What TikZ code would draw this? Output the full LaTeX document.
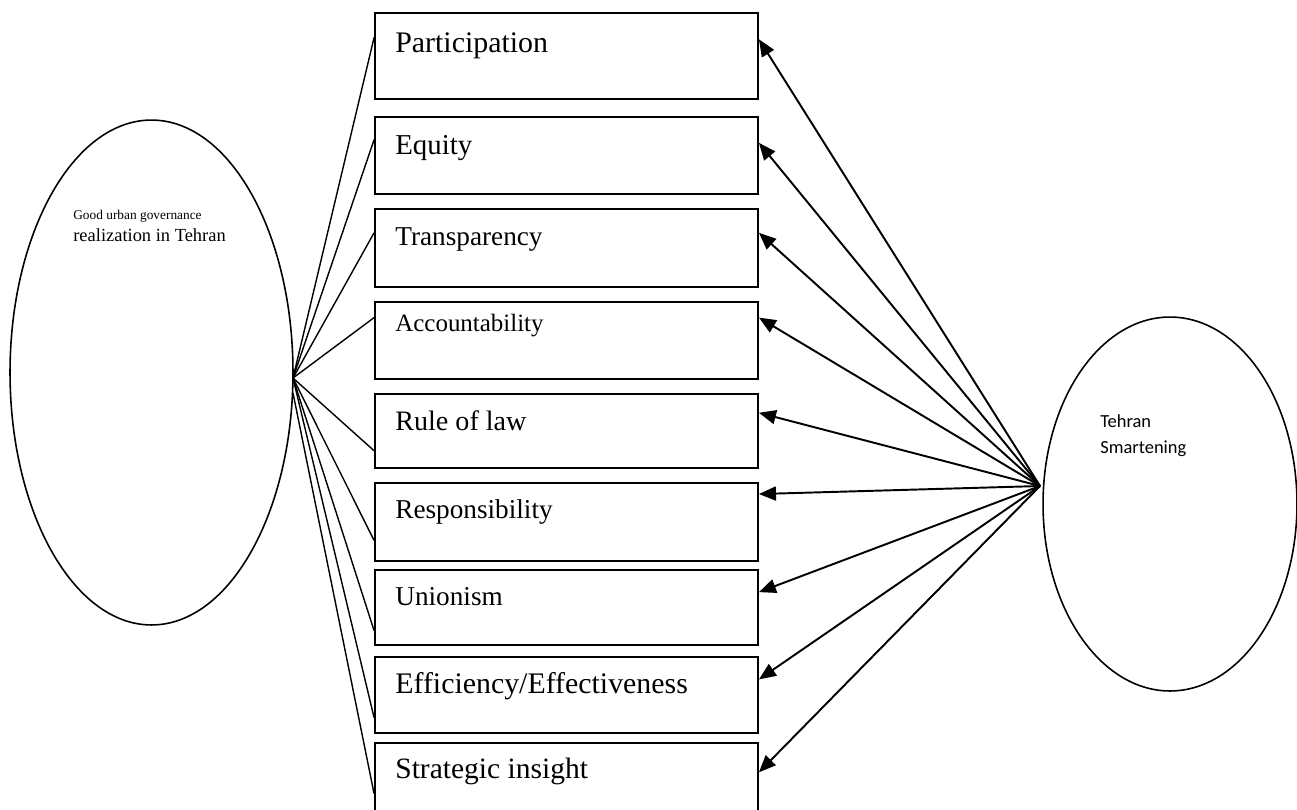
\documentclass[tikz,border=0pt]{standalone}
\usepackage{fontspec}
\setmainfont{Liberation Serif}
\newfontfamily\carlito{Carlito}
\usepackage{tikz}
\usetikzlibrary{shapes.geometric, arrows.meta, calc}

\tikzset{
  factorbox/.style={draw, line width=1.1pt, minimum width=7.66cm, inner sep=0pt},
  factorlbl/.style={anchor=base west, inner sep=0pt, font=\fontsize{15.5}{18}\selectfont},
  bigoval/.style={draw, ellipse, line width=0.9pt, inner sep=0pt},
  feeder/.style={line width=0.8pt},
  pointer/.style={line width=1.1pt, -{Triangle[length=0.34cm, width=0.28cm]}}
}

\begin{document}
\begin{tikzpicture}[x=0.02cm, y=-0.02cm]
  \useasboundingbox (0,0) rectangle (1297,809);
  \clip (0,0) rectangle (1297,809);

  % Left ellipse
  \node[bigoval, minimum width=5.66cm, minimum height=10.1cm] (ge) at (151.5,372.5) {};
  \node[anchor=base west, inner sep=0pt, font=\fontsize{7.6}{9}\selectfont] (getop) at (73,219) {Good urban governance};
  \node[anchor=base west, inner sep=0pt, font=\fontsize{10.5}{12}\selectfont] (gebot) at (73,241) {realization in Tehran};
  \coordinate (gehub) at (293,378);
  \coordinate (gehublow) at (293,393);

  % Right ellipse
  \node[bigoval, minimum width=5.08cm, minimum height=7.48cm] (ts) at (1170,504) {};
  \node[anchor=base west, inner sep=0pt, font=\carlito\fontsize{10.5}{12}\selectfont] (tstop) at (1100,427) {Tehran};
  \node[anchor=base west, inner sep=0pt, font=\carlito\fontsize{10.5}{12}\selectfont] (tsbot) at (1100,453) {Smartening};
  \coordinate (tshub) at (1040,486);

  % Boxes
  \node[factorbox, minimum height=1.72cm] (b1) at (566.5,56) {};
  \node[factorbox, minimum height=1.54cm] (b2) at (566.5,155.5) {};
  \node[factorbox, minimum height=1.56cm] (b3) at (566.5,248) {};
  \node[factorbox, minimum height=1.54cm] (b4) at (566.5,340.5) {};
  \node[factorbox, minimum height=1.48cm] (b5) at (566.5,431) {};
  \node[factorbox, minimum height=1.56cm] (b6) at (566.5,522) {};
  \node[factorbox, minimum height=1.50cm] (b7) at (566.5,607.5) {};
  \node[factorbox, minimum height=1.52cm] (b8) at (566.5,695) {};
  \node[factorbox, minimum height=1.74cm] (b9) at (566.5,786.5) {};

  % Box labels
  \node[factorlbl, font=\fontsize{17}{20}\selectfont] (t1) at (395,52) {Participation};
  \node[factorlbl, font=\fontsize{16.4}{19}\selectfont] (t2) at (395,154) {Equity};
  \node[factorlbl] (t3) at (395,245) {Transparency};
  \node[factorlbl, font=\fontsize{14.2}{17}\selectfont] (t4) at (395,331) {Accountability};
  \node[factorlbl, font=\fontsize{16}{19}\selectfont] (t5) at (395,430) {Rule of law};
  \node[factorlbl] (t6) at (395,518) {Responsibility};
  \node[factorlbl] (t7) at (395,605) {Unionism};
  \node[factorlbl, font=\fontsize{17}{20}\selectfont] (t8) at (395,693) {Efficiency/Effectiveness};
  \node[factorlbl, font=\fontsize{16.8}{20}\selectfont] (t9) at (395,778) {Strategic insight};

  % Lines from the left ellipse
  \draw[feeder] (gehub) -- ($(b1.north west)!0.29!(b1.south west)$);
  \draw[feeder] (gehub) -- ($(b2.north west)!0.30!(b2.south west)$);
  \draw[feeder] (gehub) -- ($(b3.north west)!0.31!(b3.south west)$);
  \draw[feeder] (gehub) -- ($(b4.north west)!0.21!(b4.south west)$);
  \draw[feeder] (gehub) -- ($(b5.north west)!0.76!(b5.south west)$);
  \draw[feeder] (gehub) -- ($(b6.north west)!0.73!(b6.south west)$);
  \draw[feeder] (gehub) -- ($(b7.north west)!0.80!(b7.south west)$);
  \draw[feeder] (gehub) -- ($(b8.north west)!0.79!(b8.south west)$);
  \draw[feeder] (gehublow) -- ($(b9.north west)!0.58!(b9.south west)$);

  % Arrows from the right ellipse
  \draw[pointer] (tshub) -- ($(b1.north east)!0.31!(b1.south east)$);
  \draw[pointer] (tshub) -- ($(b2.north east)!0.34!(b2.south east)$);
  \draw[pointer] (tshub) -- ($(b3.north east)!0.31!(b3.south east)$);
  \draw[pointer] (tshub) -- ($(b4.north east)!0.21!(b4.south east)$);
  \draw[pointer] (tshub) -- ($(b5.north east)!0.26!(b5.south east)$);
  \draw[pointer] (tshub) -- ($(b6.north east)!0.15!(b6.south east)$);
  \draw[pointer] (tshub) -- ($(b7.north east)!0.30!(b7.south east)$);
  \draw[pointer] (tshub) -- ($(b8.north east)!0.30!(b8.south east)$);
  \draw[pointer] (tshub) -- ($(b9.north east)!0.34!(b9.south east)$);
\end{tikzpicture}
\end{document}
